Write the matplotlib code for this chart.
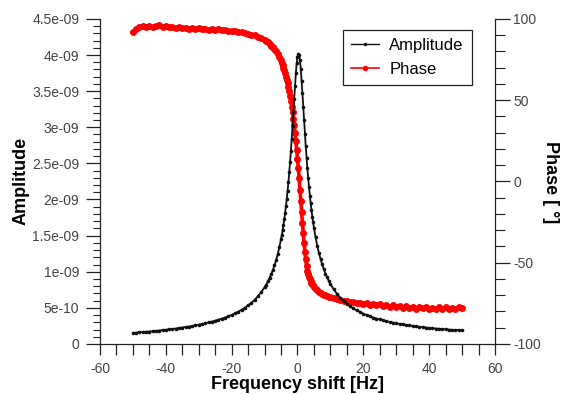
import numpy as np
import matplotlib
matplotlib.use("Agg")
import matplotlib.pyplot as plt
from matplotlib.ticker import MultipleLocator, FuncFormatter

plt.rcParams['font.family'] = ['Liberation Sans', 'DejaVu Sans']
plt.rcParams['axes.unicode_minus'] = False

# frequency shift [Hz], sampled densely around the resonance
freq = [-50, -49, -48, -47, -46, -45, -44, -43, -42, -41,
        -40, -39, -38, -37, -36, -35, -34, -33, -32, -31,
        -30, -29, -28, -27, -26, -25, -24, -23, -22, -21,
        -20, -19, -18, -17, -16, -15, -14, -13, -12, -11, -10,
        -9.5, -9, -8.5, -8, -7.5, -7, -6.5, -6, -5.5,
        -5, -4.75, -4.5, -4.25, -4, -3.75, -3.5, -3.25, -3, -2.75,
        -2.5, -2.25, -2, -1.75, -1.5, -1.25, -1, -0.75, -0.5, -0.25,
        0, 0.25, 0.5, 0.75, 1, 1.25, 1.5, 1.75, 2, 2.25,
        2.5, 2.75, 3, 3.25, 3.5, 3.75, 4, 4.25, 4.5, 4.75, 5,
        5.5, 6, 6.5, 7, 7.5, 8, 8.5, 9, 9.5,
        10, 11, 12, 13, 14, 15, 16, 17, 18, 19,
        20, 21, 22, 23, 24, 25, 26, 27, 28, 29,
        30, 31, 32, 33, 34, 35, 36, 37, 38, 39,
        40, 41, 42, 43, 44, 45, 46, 47, 48, 49, 50]

# amplitude in units of 1e-9
amp_nano = [0.153, 0.156, 0.160, 0.164, 0.168, 0.172, 0.176, 0.181, 0.186, 0.191,
            0.196, 0.202, 0.207, 0.214, 0.220, 0.227, 0.234, 0.241, 0.249, 0.258,
            0.267, 0.276, 0.287, 0.298, 0.309, 0.322, 0.336, 0.350, 0.366, 0.384,
            0.402, 0.424, 0.447, 0.473, 0.501, 0.534, 0.570, 0.612, 0.661, 0.718, 0.785,
            0.823, 0.865, 0.912, 0.964, 1.022, 1.087, 1.160, 1.244, 1.340,
            1.450, 1.512, 1.579, 1.651, 1.730, 1.815, 1.909, 2.010, 2.121, 2.242,
            2.375, 2.519, 2.675, 2.843, 3.021, 3.207, 3.396, 3.578, 3.745, 3.883,
            3.978, 4.019, 4.001, 3.927, 3.804, 3.647, 3.469, 3.282, 3.094, 2.913,
            2.741, 2.580, 2.431, 2.294, 2.169, 2.054, 1.948, 1.852, 1.763, 1.682, 1.607,
            1.474, 1.361, 1.262, 1.176, 1.101, 1.034, 0.975, 0.922, 0.874,
            0.831, 0.756, 0.694, 0.641, 0.595, 0.555, 0.521, 0.491, 0.464, 0.441,
            0.419, 0.400, 0.382, 0.366, 0.352, 0.339, 0.326, 0.315, 0.305, 0.295,
            0.286, 0.277, 0.270, 0.262, 0.256, 0.249, 0.243, 0.237, 0.232, 0.227,
            0.222, 0.218, 0.214, 0.210, 0.206, 0.202, 0.199, 0.196, 0.192, 0.190, 0.187]

# phase in degrees
phase = [92.0, 93.6, 94.8, 95.4, 95.0, 95.8, 95.2, 95.6, 96.0, 95.3,
         95.7, 94.9, 95.2, 94.6, 95.0, 94.3, 94.7, 94.1, 94.4, 93.9,
         94.2, 93.6, 94.0, 93.4, 93.7, 93.3, 93.5, 93.0, 93.2, 92.7,
         92.8, 92.4, 92.2, 91.8, 91.4, 91.0, 90.4, 89.8, 89.0, 88.1, 87.0,
         86.3, 85.5, 84.5, 83.5, 82.5, 81.5, 80.0, 78.5, 76.5,
         74.5, 73.0, 71.5, 70.0, 68.5, 66.5, 64.5, 62.5, 60.5, 58.0,
         55.5, 52.5, 49.5, 46.0, 42.5, 38.5, 34.5, 30.0, 25.0, 19.5,
         14.0, 8.5, 2.0, -5.0, -12.0, -19.0, -25.5, -32.0, -38.0, -43.5,
         -48.0, -52.0, -55.0, -57.0, -58.8, -60.3, -61.5, -62.5, -63.3, -64.0, -64.7,
         -66.0, -67.0, -67.8, -68.5, -69.1, -69.6, -70.1, -70.5, -70.9,
         -71.2, -71.8, -72.4, -72.8, -73.3, -73.5, -74.2, -74.0, -74.8, -74.6,
         -75.3, -75.0, -75.8, -75.4, -76.2, -75.6, -76.5, -76.0, -77.1, -76.3,
         -77.0, -76.6, -77.6, -76.8, -77.9, -77.2, -78.3, -77.1, -78.0, -77.4,
         -78.5, -77.6, -78.7, -77.5, -78.2, -77.3, -78.6, -77.8, -78.4, -77.5, -78.1]

amplitude = np.array(amp_nano) * 1e-9

fig = plt.figure(figsize=(5.63, 3.94), dpi=100)
ax = fig.add_axes([0.1776, 0.127, 0.7016, 0.825])
ax2 = ax.twinx()

ln_ph, = ax2.plot(freq, phase, color='#ff0000', lw=2.6, marker='o', ms=5.0,
                  mec='none', label='Phase')
ln_amp, = ax.plot(freq, amplitude, color='#111111', lw=1.3, marker='o', ms=2.6,
                  mec='none', label='Amplitude')

# amplitude drawn above phase
ax.set_zorder(ax2.get_zorder() + 1)
ax.patch.set_visible(False)

ax.set_xlim(-60, 60)
ax.set_ylim(0, 4.5e-9)
ax2.set_ylim(-100, 100)

ax.xaxis.set_major_locator(MultipleLocator(20))
ax.xaxis.set_minor_locator(MultipleLocator(5))
ax.yaxis.set_major_locator(MultipleLocator(5e-10))
ax.yaxis.set_minor_locator(MultipleLocator(1e-10))
ax.yaxis.set_major_formatter(FuncFormatter(lambda v, p: '%g' % v if abs(v) > 1e-15 else '0'))
ax2.yaxis.set_major_locator(MultipleLocator(50))
ax2.yaxis.set_minor_locator(MultipleLocator(10))

for s in ['top', 'right']:
    ax.spines[s].set_visible(False)
for s in ['top', 'left', 'bottom']:
    ax2.spines[s].set_visible(False)
for s in ['left', 'bottom']:
    ax.spines[s].set_linewidth(0.9)
    ax.spines[s].set_color('#222222')
ax2.spines['right'].set_linewidth(0.9)
ax2.spines['right'].set_color('#222222')

ax.tick_params(axis='x', which='both', direction='out', length=8, width=0.9,
               labelsize=10, pad=5, labelcolor='#444444', color='#222222')
ax.tick_params(axis='y', which='major', direction='out', length=10, width=0.9,
               labelsize=10, pad=5, labelcolor='#444444', color='#222222')
ax.tick_params(axis='y', which='minor', direction='out', length=5, width=0.8,
               color='#222222')
ax2.tick_params(axis='y', which='major', direction='out', length=11, width=0.9,
                labelsize=10, pad=2, labelcolor='#444444', color='#222222')
ax2.tick_params(axis='y', which='minor', direction='out', length=7, width=0.8,
                color='#222222')

ax.set_xlabel('Frequency shift [Hz]', fontsize=13, fontweight='bold', labelpad=0)
ax.set_ylabel('Amplitude', fontsize=13, fontweight='bold', labelpad=2)
fig.text(550 / 563, 1 - 182 / 394, 'Phase [ \u00b0]', fontsize=13, fontweight='bold',
         rotation=270, ha='center', va='center')

leg = ax.legend([ln_amp, ln_ph], ['Amplitude', 'Phase'], loc='upper right',
                bbox_to_anchor=(0.942, 0.966), borderaxespad=0, fancybox=False,
                edgecolor='#222222', framealpha=1, fontsize=12, handlelength=1.7,
                handletextpad=0.6, labelspacing=0.5, borderpad=0.5)
leg.get_frame().set_linewidth(0.9)
leg.get_lines()[0].set_linewidth(1.0)
leg.get_lines()[0].set_markersize(2.5)
leg.get_lines()[1].set_linewidth(1.2)
leg.get_lines()[1].set_markersize(4.0)

fig.savefig('out.png', dpi=100)
